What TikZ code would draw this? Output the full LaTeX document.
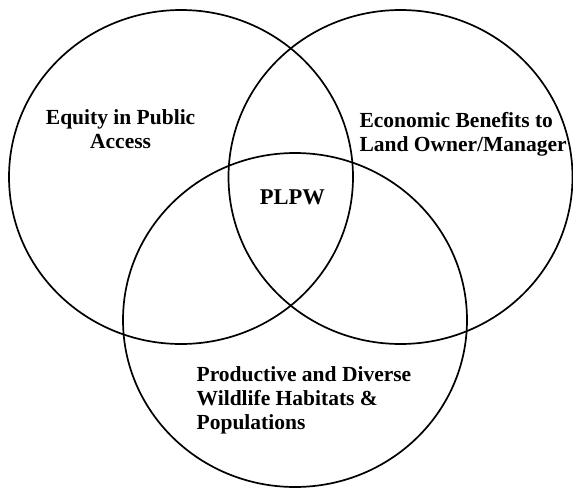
\documentclass[tikz,border=0pt]{standalone}
\usepackage{fontspec}
\setmainfont{Liberation Serif}
\usetikzlibrary{shapes.geometric}
\begin{document}
\begin{tikzpicture}[x=1pt,y=-1pt,
  goal/.style={ellipse, draw=black, line width=1.7pt, minimum width=344pt,
    minimum height=334pt, inner sep=0pt},
  label/.style={inner sep=0pt, font=\fontsize{21.5}{24}\selectfont\bfseries}]
  \useasboundingbox (0,0) rectangle (573,488);
  % the three overlapping goal areas
  \node[goal] (access)   at (181,177) {};
  \node[goal] (economic) at (400.5,177) {};
  \node[goal] (wildlife) at (295,320) {};
  % labels
  \node[label, anchor=base] (accesstext) at (120.6,124)
    {\begin{tabular}[t]{@{}c@{}}Equity in Public\\Access\end{tabular}};
  \node[label, anchor=base west] (economictext) at (359.3,127)
    {\begin{tabular}[t]{@{}l@{}}Economic Benefits to\\Land Owner/Manager\end{tabular}};
  \node[label, anchor=base west] (wildlifetext) at (196.5,381)
    {\begin{tabular}[t]{@{}l@{}}Productive and Diverse\\Wildlife Habitats \&\\Populations\end{tabular}};
  \node[inner sep=0pt, anchor=base, font=\fontsize{22.5}{24}\selectfont\bfseries] (plpw) at (292.4,204) {PLPW};
\end{tikzpicture}
\end{document}
